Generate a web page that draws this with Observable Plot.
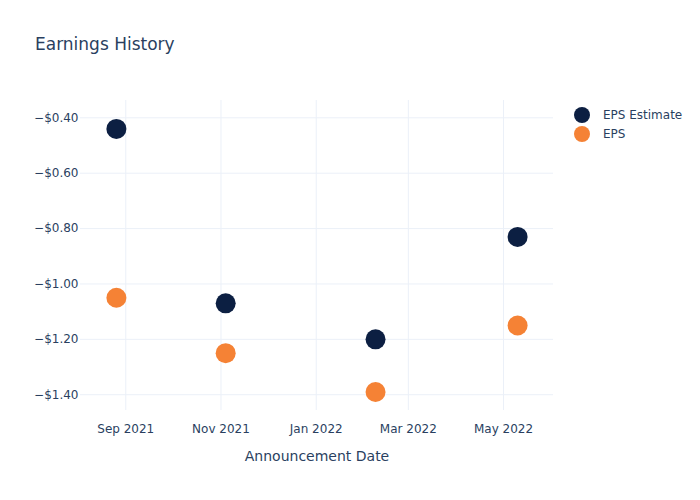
<!DOCTYPE html>
<html><head><meta charset="utf-8">
<script src="https://cdn.jsdelivr.net/npm/d3@7"></script>
<script src="https://cdn.jsdelivr.net/npm/@observablehq/plot@0.6"></script>
<style>
body{margin:0;background:#fff;font-family:"DejaVu Sans",sans-serif;}
#wrap{position:relative;width:700px;height:500px;}
#title{position:absolute;left:35px;top:34px;font-size:17px;color:#2a3f5f;}
#legend{position:absolute;left:574px;top:105px;font-size:12px;color:#2a3f5f;}
.li{display:flex;align-items:center;height:19px;}
.dot{width:16px;height:16px;border-radius:50%;margin-right:13px;}
</style></head>
<body><div id="wrap"><div id="title">Earnings History</div>
<div id="legend"></div></div>
<script>
const dates = ["2021-08-26","2021-11-04","2022-02-08","2022-05-10"];
const epsEstimate = [-0.44,-1.07,-1.20,-0.83];
const eps = [-1.05,-1.25,-1.39,-1.15];
const seriesNames = ["EPS Estimate","EPS"];
const seriesColors = ["#0c1f42","#f58235"];
const xTicks = ["2021-09-01","2021-11-01","2022-01-01","2022-03-01","2022-05-01"];
const yTicks = [-0.4,-0.6,-0.8,-1.0,-1.2,-1.4];

const rows = [];
dates.forEach((d,i)=>{
  rows.push({date:new Date(d+"T00:00:00"), value:epsEstimate[i], series:seriesNames[0]});
  rows.push({date:new Date(d+"T00:00:00"), value:eps[i], series:seriesNames[1]});
});
const fmtMoney = v => "\u2212$" + Math.abs(v).toFixed(2);
const fmtDate = d3.timeFormat("%b %Y");
const chart = Plot.plot({
  width:700, height:500,
  marginTop:100, marginBottom:90, marginLeft:80, marginRight:147,
  style:{fontFamily:"DejaVu Sans, sans-serif", fontSize:"12px", color:"#2a3f5f", background:"transparent"},
  x:{type:"time", domain:[new Date("2021-08-03T00:00:00"), new Date("2022-06-02T00:00:00")], ticks:xTicks.map(t=>new Date(t+"T00:00:00")), tickFormat:fmtDate, label:null},
  y:{domain:[-1.457,-0.3375], ticks:yTicks, tickFormat:fmtMoney, label:null},
  color:{domain:seriesNames, range:seriesColors},
  marks:[
    Plot.gridX(xTicks.map(t=>new Date(t+"T00:00:00")),{stroke:"#ebf0f8",strokeOpacity:1}),
    Plot.gridY(yTicks,{stroke:"#ebf0f8",strokeOpacity:1}),
    Plot.axisX({ticks:xTicks.map(t=>new Date(t+"T00:00:00")), tickFormat:fmtDate, tickSize:0, tickPadding:14, fill:"#2a3f5f", fontSize:12, label:null}),
    Plot.axisY({ticks:yTicks, tickFormat:fmtMoney, tickSize:0, tickPadding:2, fill:"#2a3f5f", fontSize:12, label:null}),
    Plot.text(["Announcement Date"],{frameAnchor:"bottom", dy:50, fill:"#2a3f5f", fontSize:14}),
    Plot.dot(rows,{x:"date", y:"value", fill:"series", r:10, stroke:"none"})
  ]
});
document.getElementById("wrap").appendChild(chart);
chart.style.position="absolute"; chart.style.left="0"; chart.style.top="0";
const leg = document.getElementById("legend");
seriesNames.forEach((n,i)=>{
  const d=document.createElement("div"); d.className="li";
  d.innerHTML=`<div class="dot" style="background:${seriesColors[i]}"></div><span>${n}</span>`;
  leg.appendChild(d);
});
</script></body></html>
